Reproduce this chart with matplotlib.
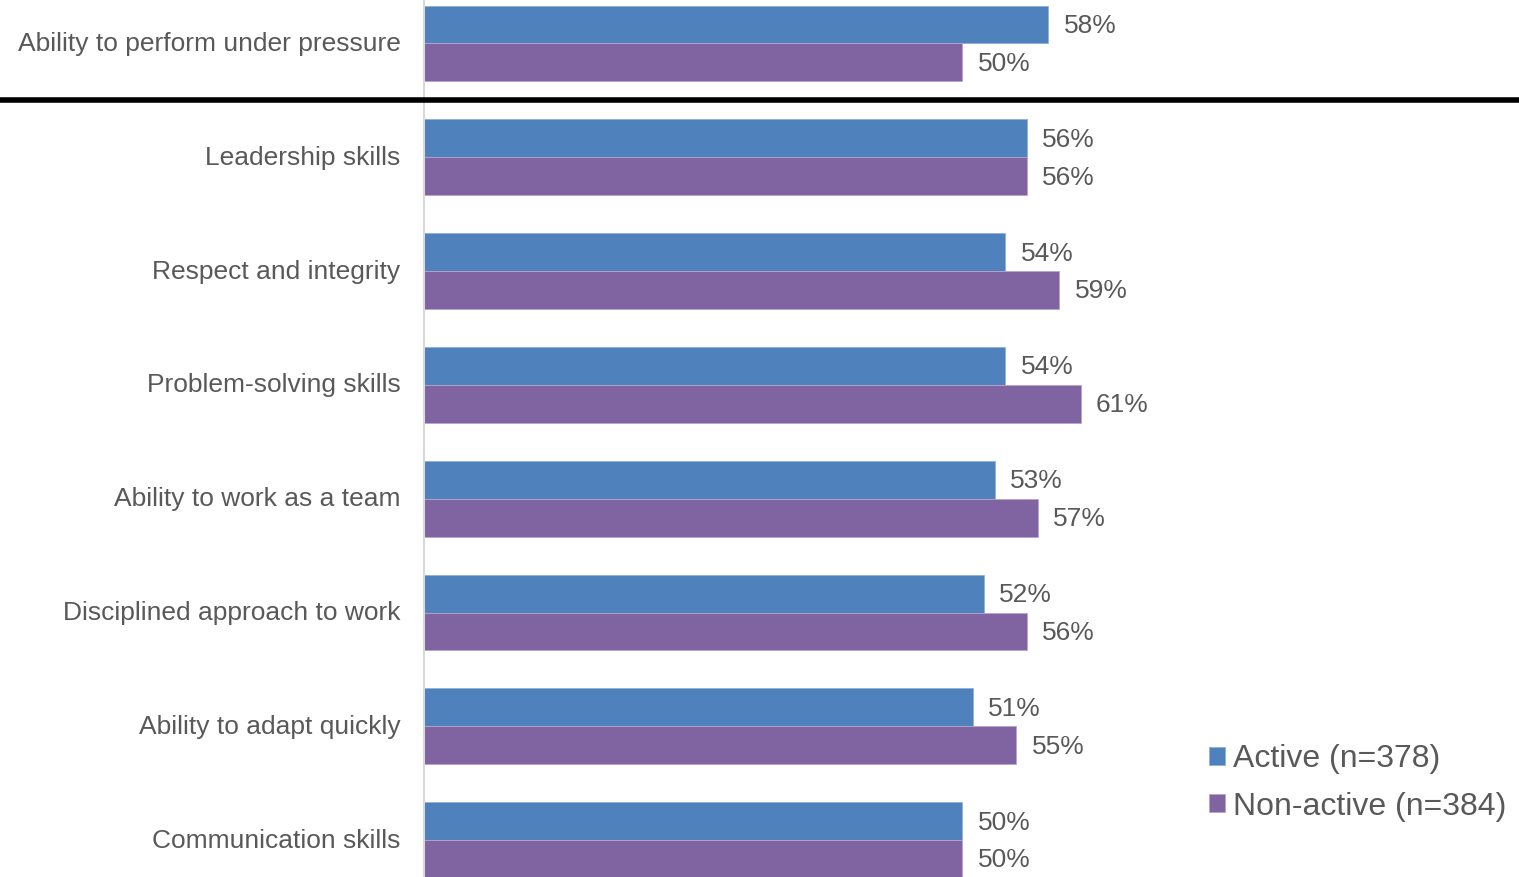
import matplotlib
matplotlib.use("Agg")
import matplotlib.pyplot as plt
import matplotlib.transforms as mtransforms
import numpy as np

plt.rcParams['font.family'] = ['Liberation Sans', 'DejaVu Sans']

categories = [
    "Ability to perform under pressure",
    "Leadership skills",
    "Respect and integrity",
    "Problem-solving skills",
    "Ability to work as a team",
    "Disciplined approach to work",
    "Ability to adapt quickly",
    "Communication skills",
]
active = [58, 56, 54, 54, 53, 52, 51, 50]
non_active = [50, 56, 59, 61, 57, 56, 55, 50]
series_labels = ["Active (n=378)", "Non-active (n=384)"]

blue = "#4F81BD"
purple = "#8064A2"
text_color = "#595959"

W, H = 1519, 877
fig = plt.figure(figsize=(W / 100, H / 100), dpi=100)
ax = fig.add_axes([424 / W, 0, 1 - 424 / W, 1])

y = np.arange(len(categories))
bh = 0.333
b1 = ax.barh(y - bh / 2, active, height=bh, color=blue, edgecolor="#8FB0D9",
             linewidth=0.6, label=series_labels[0])
b2 = ax.barh(y + bh / 2, non_active, height=bh, color=purple, edgecolor="#B8A5CC",
             linewidth=0.6, label=series_labels[1])

for bars, vals in ((b1, active), (b2, non_active)):
    for rect, v in zip(bars, vals):
        ax.annotate(f"{v}%", (v, rect.get_y() + rect.get_height() / 2),
                    xytext=(11, -1), textcoords="offset points",
                    va="center", ha="left", fontsize=19, color=text_color)

ax.set_xlim(0, 101.7)
ax.set_ylim(7.324, -0.382)
ax.set_yticks(y)
ax.set_yticklabels(categories, fontsize=19, color=text_color)
ax.tick_params(axis="y", length=0, pad=17)
shift = mtransforms.ScaledTranslation(0, 2 / 100, fig.dpi_scale_trans)
for t in ax.get_yticklabels():
    t.set_transform(t.get_transform() + shift)
ax.set_xticks([])
for side in ("top", "right", "bottom"):
    ax.spines[side].set_visible(False)
ax.spines["left"].set_color("#D9D9D9")
ax.spines["left"].set_linewidth(1.5)

# separator under the first item, running across the full width
ax.axhline(0.5, xmin=-424 / (W - 424), xmax=1, color="black", linewidth=4,
           clip_on=False, zorder=5)

leg = fig.legend(handles=[b1, b2], labels=series_labels,
                 loc="upper left", bbox_to_anchor=(1209 / W, 1 - 744 / H),
                 frameon=False, fontsize=23, handlelength=0.5, handleheight=0.5,
                 handletextpad=0.25, labelspacing=0.55, borderpad=0, borderaxespad=0)
for t in leg.get_texts():
    t.set_color(text_color)

fig.savefig("out.png", dpi=100)
